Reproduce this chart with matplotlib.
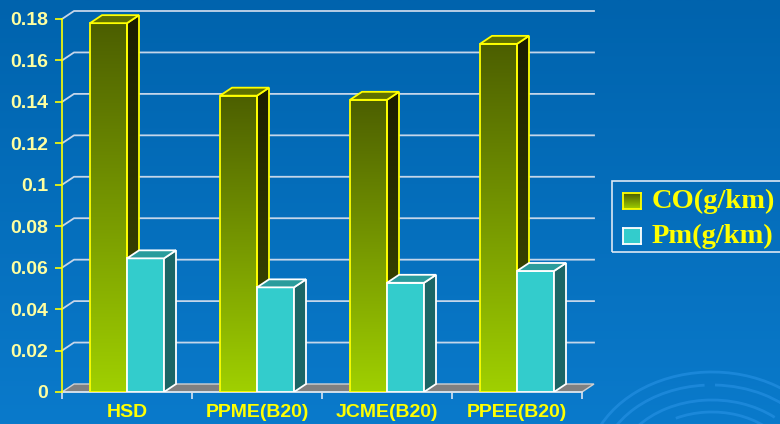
import numpy as np
import matplotlib
matplotlib.use("Agg")
import matplotlib.pyplot as plt
from matplotlib.patches import Polygon, Rectangle, Arc
from matplotlib.colors import LinearSegmentedColormap

# data
categories = ["HSD", "PPME(B20)", "JCME(B20)", "PPEE(B20)"]
co_values = [0.178, 0.143, 0.141, 0.168]
pm_values = [0.0645, 0.0505, 0.0527, 0.0584]
series_names = ["CO(g/km)", "Pm(g/km)"]
y_ticks = [0, 0.02, 0.04, 0.06, 0.08, 0.1, 0.12, 0.14, 0.16, 0.18]
y_tick_labels = ["0", "0.02", "0.04", "0.06", "0.08", "0.1", "0.12", "0.14", "0.16", "0.18"]

W, H = 780, 424
fig = plt.figure(figsize=(W / 100, H / 100), dpi=100)

# background gradient + faint swirls
bg = fig.add_axes([0, 0, 1, 1], zorder=-5)
bg.set_xlim(0, W)
bg.set_ylim(H, 0)
bg.axis("off")
bg_cmap = LinearSegmentedColormap.from_list("bg", ["#0063ad", "#0a7acb"])
bg.imshow(np.linspace(0, 1, 256).reshape(-1, 1), cmap=bg_cmap, aspect="auto",
          extent=[0, W, H, 0])
for a, b, t1, t2 in [(125, 98, 20, 165), (112, 85, 30, 88), (112, 85, 95, 175),
                     (95, 70, 40, 150), (80, 58, 140, 180), (80, 58, 20, 125),
                     (62, 44, 30, 160)]:
    bg.add_patch(Arc((712, 470), 2 * a, 2 * b, theta1=-t2, theta2=-t1,
                     color="#2a95e8", lw=2.0, alpha=0.55))

# main axes, pixel layout
ytop = 0.19
x0, x1, y0, y1 = 62, 582, 392, 19
ppu = (y0 - y1) / 0.18
y_top_px = y0 - ytop * ppu
ax = fig.add_axes([x0 / W, (H - y0) / H, (x1 - x0) / W, (y0 - y_top_px) / H])
ax.set_facecolor("none")
ax.set_xlim(0, 4)
ax.set_ylim(0, ytop)

px_x = 4 / (x1 - x0)
px_y = 1 / ppu
dx = 12 * px_x
dy = 8 * px_y

# back gridlines and floor
for v in y_ticks[1:]:
    ax.plot([0, dx, 4 + dx], [v, v + dy, v + dy], color="#c5d6ea", lw=1.3,
            clip_on=False, zorder=1)
ax.add_patch(Polygon([[0, 0], [4, 0], [4 + dx, dy], [dx, dy]], closed=True,
                     facecolor="#808080", edgecolor="#d0d0d0", lw=1.0,
                     clip_on=False, zorder=2))

co_front = LinearSegmentedColormap.from_list("cof", ["#a0d000", "#4a5c00"])
co_side = LinearSegmentedColormap.from_list("cos", ["#465400", "#1a1c00"])
bw = 37 * px_x
grad = np.linspace(0, 1, 256).reshape(-1, 1)


def draw_bar(xl, val, kind):
    xr = xl + bw
    front = [[xl, 0], [xr, 0], [xr, val], [xl, val]]
    side = [[xr, 0], [xr + dx, dy], [xr + dx, val + dy], [xr, val]]
    top = [[xl, val], [xr, val], [xr + dx, val + dy], [xl + dx, val + dy]]
    if kind == "co":
        for pts, cm in [(front, co_front), (side, co_side)]:
            p = Polygon(pts, closed=True, facecolor="none", edgecolor="none", zorder=3)
            ax.add_patch(p)
            im = ax.imshow(grad, cmap=cm, aspect="auto", origin="lower",
                           extent=[xl, xr + dx, 0, val + dy], zorder=3)
            im.set_clip_path(p)
            ax.add_patch(Polygon(pts, closed=True, facecolor="none",
                                 edgecolor="#ffff00", lw=1.3, zorder=4))
        ax.add_patch(Polygon(top, closed=True, facecolor="#5e7000",
                             edgecolor="#ffff00", lw=1.3, zorder=4))
    else:
        ax.add_patch(Polygon(front, closed=True, facecolor="#33cccc",
                             edgecolor="white", lw=1.3, zorder=5))
        ax.add_patch(Polygon(side, closed=True, facecolor="#1b6666",
                             edgecolor="white", lw=1.3, zorder=5))
        ax.add_patch(Polygon(top, closed=True, facecolor="#2a9c9c",
                             edgecolor="white", lw=1.3, zorder=5))


for i in range(len(categories)):
    c = i + 0.5
    draw_bar(c - bw, co_values[i], "co")
    draw_bar(c, pm_values[i], "pm")

# axes styling
for s in ["top", "right"]:
    ax.spines[s].set_visible(False)
ax.spines["left"].set_color("#ffff00")
ax.spines["left"].set_linewidth(1.2)
ax.spines["left"].set_bounds(0, 0.18)
ax.spines["left"].set_zorder(6)
ax.spines["bottom"].set_color("#d8e4f0")
ax.spines["bottom"].set_linewidth(1.2)

ax.set_yticks(y_ticks)
ax.set_yticklabels(y_tick_labels)
ax.tick_params(axis="y", colors="#ffff00", length=5, width=1.2, pad=5)
for lab in ax.get_yticklabels():
    lab.set_color("#ffffa0")
    lab.set_fontsize(14)
    lab.set_fontweight("bold")
    lab.set_fontfamily("Liberation Sans")

ax.set_xticks([0.5, 1.5, 2.5, 3.5])
ax.set_xticklabels(categories)
ax.set_xticks([0, 1, 2, 3, 4], minor=True)
ax.tick_params(axis="x", which="major", length=0, pad=8.5)
ax.tick_params(axis="x", which="minor", length=5, width=1.2, color="#d8e4f0")
for lab in ax.get_xticklabels():
    lab.set_color("#ffff00")
    lab.set_fontsize(14)
    lab.set_fontweight("bold")
    lab.set_fontfamily("Liberation Sans")

# legend drawn by hand
fig.patches.append(Rectangle((612 / W, 1 - 252 / H), 180 / W, 71 / H,
                             transform=fig.transFigure, facecolor="none",
                             edgecolor="#dde8f4", lw=1.2))
leg_y = [201, 236]
for j, name in enumerate(series_names):
    sq = fig.add_axes([623 / W, 1 - (leg_y[j] + 8) / H, 18 / W, 16 / H])
    if j == 0:
        sq.imshow(grad, cmap=co_front, aspect="auto", origin="lower")
        edge = "#ffff00"
    else:
        sq.set_facecolor("#33cccc")
        edge = "white"
    sq.set_xticks([])
    sq.set_yticks([])
    for s in sq.spines.values():
        s.set_color(edge)
        s.set_linewidth(1.3)
    fig.text(652 / W, 1 - leg_y[j] / H, name, color="#ffff00", fontsize=20.5,
             fontweight="bold", family="Liberation Serif", va="center", ha="left")

fig.savefig("out.png", dpi=100)
